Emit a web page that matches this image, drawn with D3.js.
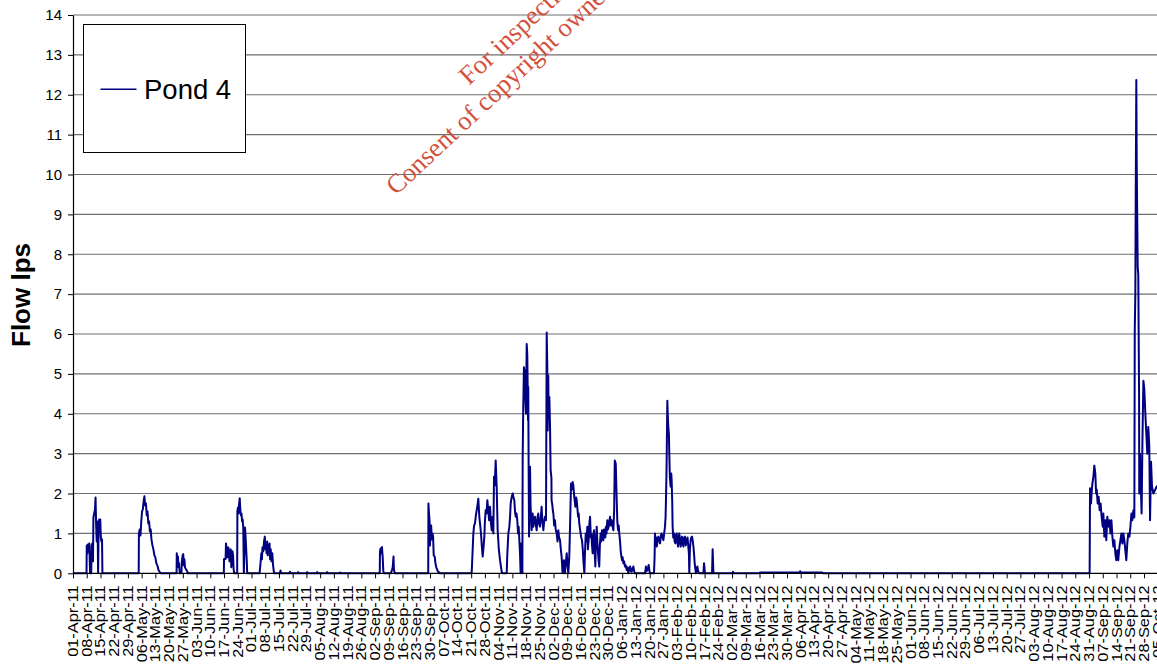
<!DOCTYPE html>
<html>
<head>
<meta charset="utf-8">
<script src="https://cdn.jsdelivr.net/npm/d3@7"></script>
<style>
  html, body { margin: 0; padding: 0; background: #fff; overflow: hidden; }
  svg { display: block; }
  text { font-family: Arial, "Liberation Sans", sans-serif; }
  text.stamp { font-family: "Liberation Serif", "Times New Roman", serif; }
</style>
</head>
<body>
<svg id="chart" width="1157" height="665"></svg>
<script>
// Pond 4 outflow logger, values in litres per second.
// Each reading is [days since logging began on 01-Apr-2011, flow lps].
const loggerStart = Date.UTC(2011, 3, 1);
const axisEnd = Date.UTC(2012, 9, 5);

const seriesName = "Pond 4";
const yTickValues = d3.range(0, 15);

const spring2011 = [
  [0, 0], [6.9, 0], [7.0, 0.7], [7.3, 0.5], [7.6, 0.72], [8.0, 0.55], [8.3, 0.75], [8.6, 0.2], [8.7, 0],
  [9.3, 0], [9.5, 0.7], [9.9, 0.75], [10.2, 0.3], [10.4, 1.4], [10.8, 1.5], [11.2, 1.6], [11.5, 1.9],
  [11.8, 1.2], [12.1, 0.8], [12.4, 1.3], [12.6, 0.9], [12.8, 0], [13.0, 0.9], [13.3, 1.35], [13.6, 1.2],
  [13.9, 1.35], [14.2, 0.9], [14.5, 0.8], [14.8, 0.85], [15.0, 0],
  [33.5, 0], [33.6, 1.0], [34.0, 1.1], [34.4, 0.95], [34.8, 1.3], [35.2, 1.55], [35.6, 1.6], [36.0, 1.8],
  [36.4, 1.93], [36.8, 1.7], [37.2, 1.75], [37.6, 1.45], [38.0, 1.55], [38.4, 1.25], [38.8, 1.3],
  [39.2, 1.05], [39.6, 1.1], [40.0, 0.85], [40.5, 0.7], [41.0, 0.6], [41.5, 0.45], [42.0, 0.4],
  [42.5, 0.25], [43.0, 0.2], [43.6, 0.08], [44.0, 0.05], [44.7, 0],
  [52.8, 0], [52.9, 0.5], [53.2, 0.3], [53.5, 0.42], [53.8, 0.15], [54.1, 0.25], [54.4, 0],
  [55.3, 0], [55.5, 0.3], [55.9, 0.45], [56.2, 0.48], [56.5, 0.2], [56.8, 0.35], [57.1, 0.15],
  [57.6, 0.1], [58.2, 0.05], [58.6, 0]
];

const summer2011 = [
  [76.9, 0], [77.0, 0.36], [77.8, 0.36], [78.0, 0.75], [78.3, 0.6], [78.6, 0.4], [78.9, 0.55], [79.2, 0.65],
  [79.5, 0.45], [79.8, 0.3], [80.1, 0.55], [80.4, 0.6], [80.7, 0.15], [81.0, 0.3], [81.3, 0.55],
  [81.6, 0.45], [81.9, 0.1], [82.2, 0],
  [83.7, 0], [83.8, 1.55], [84.1, 1.65], [84.4, 1.5], [84.7, 1.75], [85.0, 1.88], [85.3, 1.6], [85.6, 1.45],
  [85.9, 1.5], [86.2, 1.3], [86.5, 1.35], [86.8, 1.15], [87.0, 0.4], [87.1, 0], [87.4, 0.6], [87.7, 1.15],
  [88.0, 0.9], [88.3, 0.6], [88.6, 0.3], [88.8, 0],
  [95.1, 0], [95.6, 0.25], [96.0, 0.5], [96.3, 0.35], [96.6, 0.65], [97.0, 0.55], [97.4, 0.8], [97.8, 0.92],
  [98.1, 0.6], [98.4, 0.75], [98.7, 0.5], [99.0, 0.8], [99.3, 0.45], [99.6, 0.7], [99.9, 0.55], [100.2, 0.75],
  [100.5, 0.35], [100.8, 0.6], [101.2, 0.3], [101.6, 0.5], [102.0, 0.2], [102.5, 0],
  [105.5, 0], [105.8, 0.07], [106.1, 0], [110.4, 0], [110.6, 0.04], [110.8, 0], [114.6, 0], [114.8, 0.03],
  [115.0, 0], [119.2, 0], [119.4, 0.03], [119.6, 0], [124.3, 0], [124.5, 0.03], [124.7, 0], [129.4, 0],
  [129.6, 0.03], [129.8, 0], [136.0, 0], [136.2, 0.02], [136.4, 0],
  [156.4, 0], [156.5, 0.55], [156.8, 0.62], [157.2, 0.5], [157.5, 0.66], [157.9, 0.4], [158.2, 0.05], [158.6, 0],
  [162.0, 0], [162.6, 0.08], [163.0, 0.15], [163.4, 0.42], [163.6, 0.1], [164.0, 0],
  [181.1, 0], [181.2, 1.75], [181.5, 1.5], [181.8, 1.3], [182.0, 0.7], [182.3, 1.1], [182.6, 1.2], [182.9, 0.85],
  [183.3, 1.0], [183.6, 0.9], [183.9, 0.45], [184.4, 0.42], [184.8, 0.25], [185.2, 0.15], [186.0, 0.05], [187.0, 0]
];

const winter2011 = [
  [203.25, 0], [204.1, 1.0], [204.5, 1.2], [204.95, 1.25], [205.4, 1.45], [205.8, 1.58], [206.2, 1.7],
  [206.65, 1.87], [207.16, 1.4], [207.6, 1.2], [208.0, 1.0], [208.4, 0.7], [208.86, 0.42], [209.3, 0.65],
  [209.71, 0.92], [210.0, 1.3], [210.39, 1.58], [210.8, 1.5], [211.24, 1.83], [211.7, 1.6], [212.09, 1.33],
  [212.6, 1.67], [213.0, 1.3], [213.45, 1.08], [213.96, 1.42], [214.3, 1.0], [214.64, 2.42], [215.0, 2.2],
  [215.49, 2.83], [216.0, 2.17], [216.5, 1.08], [217.1, 0.6], [217.7, 0.33], [218.55, 0.04], [219.06, 0],
  [221.1, 0], [221.44, 0.5], [221.95, 1.0], [222.46, 1.17], [222.8, 1.4], [223.14, 1.75], [223.6, 1.9],
  [224.16, 2.0], [224.6, 1.9], [225.0, 1.83], [225.35, 1.55], [225.7, 1.42], [226.1, 1.5], [226.5, 1.33],
  [226.9, 1.0], [227.2, 1.17], [227.9, 0.5], [228.2, 0], [228.6, 0.75], [229.1, 0],
  [229.25, 2.83], [229.5, 4.0], [229.9, 5.17], [230.2, 4.6], [230.44, 5.1], [230.6, 4.4], [230.95, 4.0],
  [231.3, 5.75], [231.6, 5.5], [232.0, 3.83], [232.1, 4.67], [232.3, 2.58], [232.5, 0.92], [232.8, 2.2],
  [233.0, 2.67], [233.3, 1.67], [233.8, 1.08], [234.35, 1.5], [234.7, 1.17], [235.1, 1.3], [235.5, 1.42],
  [236.0, 1.2], [236.4, 1.08], [236.8, 1.4], [237.2, 1.5], [237.6, 1.25], [238.1, 1.17], [238.5, 1.4],
  [238.9, 1.67], [239.3, 1.3], [239.8, 1.08], [240.2, 1.3], [240.6, 1.42], [241.15, 1.33],
  [241.5, 6.04], [241.8, 5.2], [242.0, 3.58], [242.3, 4.96], [242.5, 3.9], [242.85, 4.42], [243.2, 3.67],
  [243.5, 2.58], [243.9, 2.4], [244.0, 1.83], [244.4, 1.7], [244.6, 1.58], [244.9, 1.5], [245.3, 1.2],
  [245.7, 1.33], [246.1, 1.1], [246.6, 1.0], [247.0, 0.8], [247.4, 1.08], [247.8, 0.9], [248.3, 0.83],
  [248.7, 0.6], [249.1, 0.42], [249.6, 0], [250.3, 0.33], [250.8, 0], [251.7, 0.5], [252.5, 0], [253.0, 0.4],
  [253.4, 1.17], [253.9, 2.25], [254.3, 2.1], [254.75, 2.29], [255.1, 2.2], [255.4, 2.0], [255.8, 1.8],
  [256.1, 1.67], [256.5, 1.9], [256.8, 1.83], [257.2, 1.6], [257.5, 1.42], [257.8, 1.5], [258.1, 1.25],
  [258.5, 1.1], [258.8, 1.0], [259.1, 0.9], [259.5, 0.83], [259.9, 0.6], [260.2, 0.33], [260.7, 0],
  [261.0, 0.5], [261.4, 1.0], [261.8, 0.8], [262.2, 1.17], [262.5, 0.6], [262.9, 0.83], [263.2, 1.2],
  [263.6, 1.42], [264.0, 0.9], [264.3, 1.0], [264.6, 0.7], [264.95, 0.5], [265.3, 0.9], [265.6, 1.08],
  [266.0, 0.5], [266.3, 0.17], [266.6, 0.8], [267.0, 1.17], [267.3, 0.8], [267.7, 0.5], [268.0, 0.3],
  [268.3, 0.17], [268.6, 0.7], [269.0, 1.0], [269.3, 0.8], [269.7, 1.08], [270.0, 0.9], [270.4, 0.83],
  [270.7, 1.1], [271.1, 1.08], [271.4, 0.9], [271.7, 1.17], [272.0, 1.0], [272.4, 1.33], [272.7, 1.1],
  [273.1, 1.17], [273.4, 1.3], [273.8, 1.42], [274.2, 1.2], [274.6, 1.33], [275.0, 1.2], [275.5, 1.08],
  [275.9, 1.6], [276.2, 2.83], [276.7, 2.75], [277.0, 2.2], [277.2, 1.83], [277.5, 1.3], [277.9, 1.08],
  [278.2, 1.2], [278.5, 1.0], [278.9, 0.8], [279.2, 0.58], [279.5, 0.45], [279.9, 0.33], [280.2, 0.4],
  [280.6, 0.25], [281.0, 0.3], [281.4, 0.17], [281.8, 0.2], [282.3, 0.08], [282.7, 0.15], [283.1, 0],
  [283.5, 0.1], [284.0, 0.17], [284.4, 0.05], [284.8, 0.04], [285.2, 0.12], [285.7, 0.17], [286.1, 0.05],
  [286.5, 0],
  [291.6, 0], [292.1, 0.17], [292.4, 0.05], [292.8, 0.08], [293.2, 0.15], [293.5, 0.21], [293.9, 0.05], [294.2, 0]
];

const spring2012 = [
  [296.2, 0], [296.5, 0.4], [296.7, 1.0], [297.0, 0.8], [297.3, 0.9], [297.6, 0.67], [298.0, 0.8], [298.4, 0.92],
  [298.8, 0.85], [299.3, 0.75], [299.7, 0.95], [300.1, 1.0], [300.5, 0.9], [301.0, 0.83], [301.4, 1.0],
  [301.8, 1.17], [302.1, 1.4], [302.3, 1.83], [302.6, 2.6], [303.0, 4.33], [303.2, 4.0], [303.5, 3.67],
  [303.8, 3.5], [304.0, 3.0], [304.3, 2.4], [304.7, 2.17], [305.0, 2.5], [305.2, 2.33], [305.5, 1.8],
  [305.7, 1.17], [306.0, 0.9], [306.4, 1.0], [306.7, 0.8], [307.1, 0.75], [307.4, 0.95], [307.8, 1.0],
  [308.1, 0.8], [308.5, 0.67], [308.8, 0.9], [309.1, 1.0], [309.5, 0.8], [309.8, 0.67], [310.1, 0.85],
  [310.5, 0.92], [310.8, 0.75], [311.2, 0.67], [311.6, 0.9], [312.0, 0.92], [312.4, 0.7], [312.9, 0.83],
  [313.3, 0.9], [313.7, 0.67], [314.0, 0.5], [314.2, 0], [314.5, 0.6], [314.9, 0.83], [315.2, 0.9],
  [315.6, 0.92], [316.0, 0.8], [316.3, 0.67], [316.6, 0.5], [316.95, 0.25], [317.3, 0.1], [317.6, 0],
  [318.0, 0.1], [318.3, 0.17], [318.7, 0.05], [319.3, 0],
  [321.4, 0], [321.7, 0.25], [322.2, 0], [325.8, 0], [326.1, 0.6], [326.5, 0],
  [336.3, 0], [336.5, 0.04], [336.8, 0], [350.0, 0], [350.2, 0.02], [363.0, 0.02], [370.5, 0.02],
  [370.7, 0.05], [371.0, 0.02], [382.0, 0.02], [382.5, 0]
];

const autumn2012 = [
  [518.3, 0], [518.5, 2.13], [519.0, 1.75], [519.3, 2.0], [519.7, 2.25], [520.2, 2.42], [520.7, 2.7],
  [521.2, 2.5], [521.6, 2.0], [521.9, 2.1], [522.4, 1.75], [522.9, 1.92], [523.4, 1.58], [523.9, 1.75],
  [524.4, 1.42], [525.0, 1.17], [525.3, 1.5], [525.8, 0.92], [526.3, 1.33], [526.8, 0.83], [527.3, 1.42],
  [527.8, 1.17], [528.4, 1.33], [528.9, 1.0], [529.4, 1.33], [529.9, 0.92], [530.4, 0.67], [530.9, 0.83],
  [531.4, 0.5], [531.9, 0.33], [532.4, 0.58], [532.9, 0.33], [533.5, 0.67], [534.0, 0.83], [534.5, 1.0],
  [535.0, 0.75], [535.5, 1.0], [536.0, 0.83], [536.5, 0.58], [537.0, 0.33], [537.5, 0.75], [538.0, 1.0],
  [538.6, 0.92], [539.1, 1.17], [539.6, 1.5], [540.1, 1.33], [540.6, 1.58], [541.1, 1.4], [541.3, 6.08],
  [541.6, 7.0], [541.8, 9.5], [542.1, 12.37], [542.3, 10.3], [542.8, 7.67], [543.1, 7.5], [543.3, 6.0],
  [543.5, 4.5], [543.6, 2.0], [544.0, 3.0], [544.3, 2.3], [544.8, 1.5], [545.2, 3.25], [545.7, 4.83],
  [546.2, 4.6], [546.7, 4.0], [547.2, 3.5], [547.7, 3.0], [548.2, 3.67], [548.7, 3.2], [549.1, 1.33],
  [549.6, 2.8], [550.1, 2.17], [550.8, 2.0], [552.7, 2.2]
];

const readings = [...spring2011, ...summer2011, ...winter2011, ...spring2012, ...autumn2012]
  .map(([day, flow]) => ({ time: new Date(loggerStart + day * 864e5), flow }));

const weeklyTicks = d3.utcDay.range(new Date(loggerStart), new Date(axisEnd + 864e5), 7);

const svg = d3.select("#chart");
const plot = { left: 73, right: 1157, top: 15, bottom: 573.3 };

const x = d3.scaleUtc()
  .domain([new Date(loggerStart), new Date(axisEnd)])
  .range([plot.left, 1157.7]);
const y = d3.scaleLinear().domain([0, 14]).range([plot.bottom, plot.top]);

// horizontal gridlines
svg.append("g")
  .selectAll("line")
  .data(yTickValues.filter(v => v > 0))
  .join("line")
  .attr("x1", plot.left).attr("x2", plot.right)
  .attr("y1", d => y(d)).attr("y2", d => y(d))
  .attr("stroke", "#6f6f6f").attr("stroke-width", 1.1);

// flow trace
svg.append("path")
  .datum(readings)
  .attr("fill", "none")
  .attr("stroke", "#000080")
  .attr("stroke-width", 2)
  .attr("stroke-linejoin", "round")
  .attr("d", d3.line().x(d => x(d.time)).y(d => y(d.flow)));

// y axis
const yAxis = svg.append("g")
  .attr("transform", `translate(${plot.left},0)`)
  .call(d3.axisLeft(y).tickValues(yTickValues).tickSize(5).tickSizeOuter(0).tickPadding(6));
yAxis.select(".domain").attr("stroke", "#000").attr("stroke-width", 1.2);
yAxis.selectAll(".tick line").attr("stroke", "#000");
yAxis.selectAll("text").attr("font-size", 15).attr("fill", "#000")
  .attr("font-family", "Arial, 'Liberation Sans', sans-serif");

// x axis with weekly date labels
const xAxis = svg.append("g")
  .attr("transform", `translate(0,${plot.bottom})`)
  .call(d3.axisBottom(x).tickValues(weeklyTicks).tickFormat(d3.utcFormat("%d-%b-%y"))
    .tickSize(5).tickSizeOuter(0));
xAxis.select(".domain").attr("stroke", "#000").attr("stroke-width", 1.2)
  .attr("d", `M${plot.left},0H${plot.right}`);
xAxis.selectAll(".tick line").attr("stroke", "#000");
xAxis.selectAll("text")
  .attr("font-size", 14).attr("fill", "#000")
  .attr("font-family", "Arial, 'Liberation Sans', sans-serif")
  .attr("text-anchor", "end")
  .attr("x", 0).attr("y", 0).attr("dy", 0)
  .attr("transform", "translate(4.5,12) rotate(-90) scale(1.17,1)");

// axis title
svg.append("text")
  .attr("transform", "translate(30,295) rotate(-90)")
  .attr("text-anchor", "middle")
  .attr("font-size", 26).attr("font-weight", "bold")
  .text("Flow lps");

// legend
const legend = svg.append("g");
legend.append("rect")
  .attr("x", 83.5).attr("y", 24.5).attr("width", 162).attr("height", 128)
  .attr("fill", "#fff").attr("stroke", "#000").attr("stroke-width", 1);
legend.append("line")
  .attr("x1", 100.5).attr("x2", 136.5).attr("y1", 89.3).attr("y2", 89.3)
  .attr("stroke", "#000080").attr("stroke-width", 1.6);
legend.append("text")
  .attr("x", 144).attr("y", 99)
  .attr("font-size", 27.5)
  .text(seriesName);

// document stamp
const stamp = svg.append("g").attr("fill", "#d2513c");
stamp.append("text")
  .attr("class", "stamp")
  .attr("font-size", 26.5)
  .attr("transform", "translate(469,86) rotate(-43)")
  .text("For inspection purposes only.");
stamp.append("text")
  .attr("class", "stamp")
  .attr("font-size", 26.5)
  .attr("transform", "translate(396,196) rotate(-43)")
  .text("Consent of copyright owner required for any other use.");
</script>
</body>
</html>
